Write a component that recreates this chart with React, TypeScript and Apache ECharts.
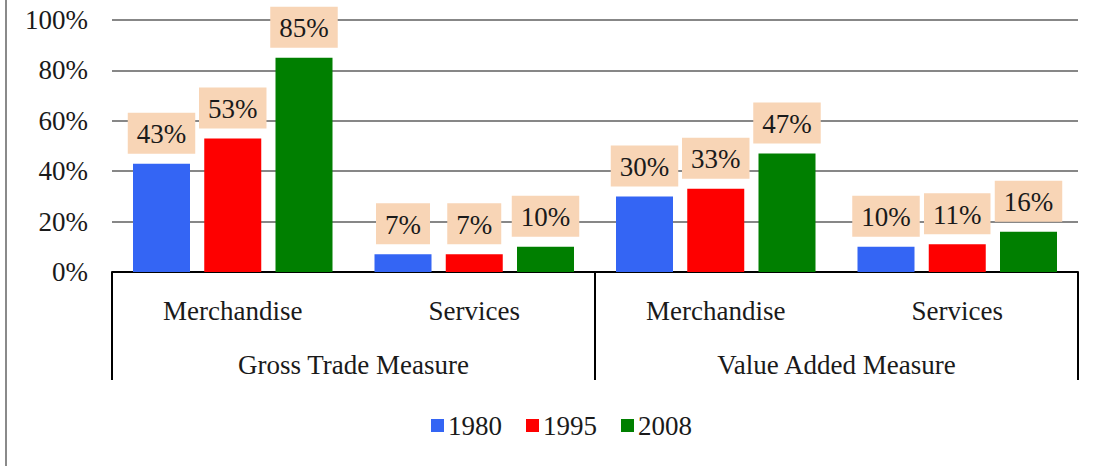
import React, { useEffect, useRef } from "react";
import * as echarts from "echarts";

const subCategories = ["Merchandise", "Services", "Merchandise", "Services"];
const groupCategories = ["Gross Trade Measure", "Value Added Measure"];
const seriesNames = ["1980", "1995", "2008"];
const values1980 = [43, 7, 30, 10];
const values1995 = [53, 7, 33, 11];
const values2008 = [85, 10, 47, 16];
const seriesColors = ["#3465F4", "#FE0000", "#007F00"];

const FONT = "Liberation Serif";
const TEXT = "#1a1a1a";

export default function App() {
  const ref = useRef<HTMLDivElement>(null);
  useEffect(() => {
    document.body.style.margin = "0";
    const chart = echarts.init(ref.current!, null, { renderer: "svg" });
    const allValues = [values1980, values1995, values2008];
    chart.setOption({
      animation: false,
      backgroundColor: "#ffffff",
      textStyle: { fontFamily: FONT },
      grid: { left: 112, right: 19, top: 20, bottom: 194 },
      legend: {
        data: seriesNames,
        left: 426,
        top: 407,
        icon: "rect",
        itemWidth: 13,
        itemHeight: 13,
        itemGap: 24,
        textStyle: { fontFamily: FONT, fontSize: 27, color: TEXT, padding: [0, 0, 0, -1] },
      },
      xAxis: [
        {
          type: "category",
          position: "bottom",
          data: subCategories,
          axisLine: { show: true, lineStyle: { color: "#000", width: 2 } },
          axisTick: { show: false },
          axisLabel: { interval: 0, margin: 25, fontFamily: FONT, fontSize: 27, color: TEXT },
        },
        {
          type: "category",
          position: "bottom",
          offset: 0,
          data: groupCategories,
          axisLine: { show: false },
          axisTick: { show: true, length: 108, interval: 0, lineStyle: { color: "#000", width: 2 } },
          axisLabel: { interval: 0, margin: 79, fontFamily: FONT, fontSize: 27, color: TEXT },
        },
      ],
      yAxis: {
        type: "value",
        min: 0,
        max: 100,
        interval: 20,
        axisLine: { show: false },
        axisTick: { show: false },
        axisLabel: { formatter: "{value}%", margin: 24, fontFamily: FONT, fontSize: 27, color: TEXT },
        splitLine: { lineStyle: { color: "#878787", width: 2 } },
      },
      graphic: [
        {
          type: "line",
          shape: { x1: 6, y1: 0, x2: 6, y2: 466 },
          style: { stroke: "#8a8a8a", lineWidth: 2 },
        },
      ],
      series: seriesNames.map((name, i) => ({
        name,
        type: "bar",
        xAxisIndex: 0,
        data: allValues[i],
        barWidth: 57,
        barGap: "25%",
        itemStyle: { color: seriesColors[i] },
        label: {
          show: true,
          position: "top",
          distance: 10,
          formatter: "{c}%",
          fontFamily: FONT,
          fontSize: 27,
          color: TEXT,
          backgroundColor: "#F8D5B6",
          padding: [8, 9, 6, 9],
        },
      })),
    });
    return () => chart.dispose();
  }, []);
  return <div ref={ref} style={{ width: 1097, height: 466 }} />;
}
